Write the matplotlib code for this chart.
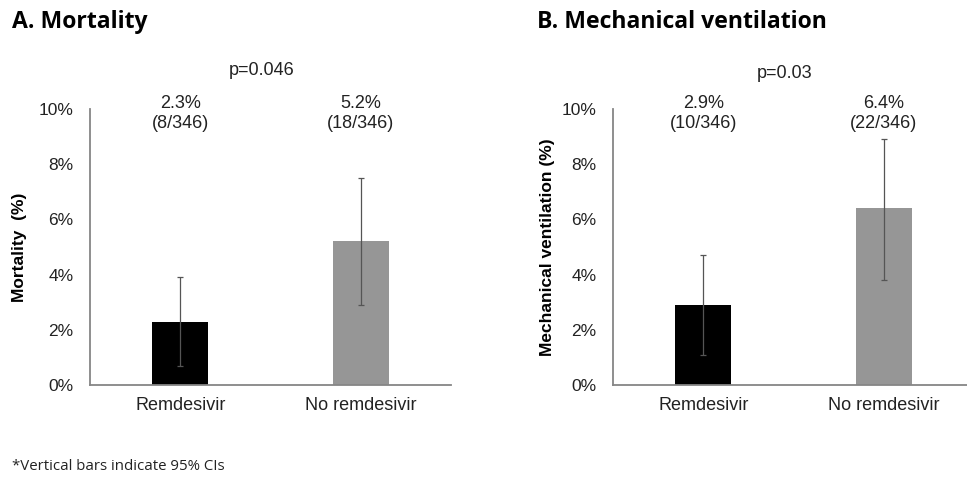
import matplotlib
matplotlib.use("Agg")
import matplotlib.pyplot as plt

groups = ["Remdesivir", "No remdesivir"]

mort = [2.3, 5.2]
mort_lo = [0.7, 2.9]
mort_hi = [3.9, 7.5]
mort_labels = ["2.3%\n(8/346)", "5.2%\n(18/346)"]

vent = [2.9, 6.4]
vent_lo = [1.1, 3.8]
vent_hi = [4.7, 8.9]
vent_labels = ["2.9%\n(10/346)", "6.4%\n(22/346)"]

yticks = [0, 2, 4, 6, 8, 10]
bar_colors = ["#000000", "#969696"]

plt.rcParams["font.family"] = "Liberation Sans"

fig = plt.figure(figsize=(9.67, 4.78), dpi=100)


def panel(rect, vals, lo, hi, labels, ylabel, pval, py, lpad):
    ax = fig.add_axes(rect)
    x = range(len(groups))
    err = [[v - l for v, l in zip(vals, lo)], [h - v for v, h in zip(vals, hi)]]
    ax.bar(x, vals, width=0.31, color=bar_colors)
    ax.errorbar(x, vals, yerr=err, fmt="none", ecolor="#555555",
                elinewidth=0.9, capsize=2, capthick=0.9)
    ax.set_xlim(-0.5, 1.5)
    ax.set_ylim(0, 10)
    ax.set_yticks(yticks)
    ax.set_yticklabels([f"{t}%" for t in yticks])
    ax.set_xticks(list(x))
    ax.set_xticklabels(groups)
    ax.tick_params(axis="both", length=0, colors="#222222")
    ax.tick_params(axis="y", pad=12, labelsize=12.5)
    ax.tick_params(axis="x", pad=9, labelsize=13)
    for s in ["top", "right"]:
        ax.spines[s].set_visible(False)
    for s in ["left", "bottom"]:
        ax.spines[s].set_color("#868686")
        ax.spines[s].set_linewidth(1.3)
    ax.set_ylabel(ylabel, fontsize=12.5, fontweight="bold", labelpad=lpad)
    for i, t in enumerate(labels):
        ax.text(i, 9.85, t, ha="center", va="center", fontsize=13,
                linespacing=1.25, color="#222222", clip_on=False)
    ax.text(0.45, py, pval, ha="center", va="center", fontsize=13,
            color="#222222", clip_on=False)
    return ax


panel([90 / 967, 93 / 478, 361 / 967, 276 / 478], mort, mort_lo, mort_hi,
      mort_labels, "Mortality  (%)", "p=0.046", 11.4, 8)
panel([613 / 967, 93 / 478, 361 / 967, 276 / 478], vent, vent_lo, vent_hi,
      vent_labels, "Mechanical ventilation (%)", "p=0.03", 11.3, 5)

fig.text(12 / 967, 1 - 22 / 478, "A. Mortality", fontsize=16.6,
         fontweight="bold", family="Open Sans", va="center")
fig.text(537 / 967, 1 - 22 / 478, "B. Mechanical ventilation", fontsize=16.6,
         fontweight="bold", family="Open Sans", va="center")
fig.text(12 / 967, 1 - 467 / 478, "*Vertical bars indicate 95% CIs",
         fontsize=10.8, family="Open Sans", va="center", color="#222222")

fig.savefig("out.png", dpi=100)
